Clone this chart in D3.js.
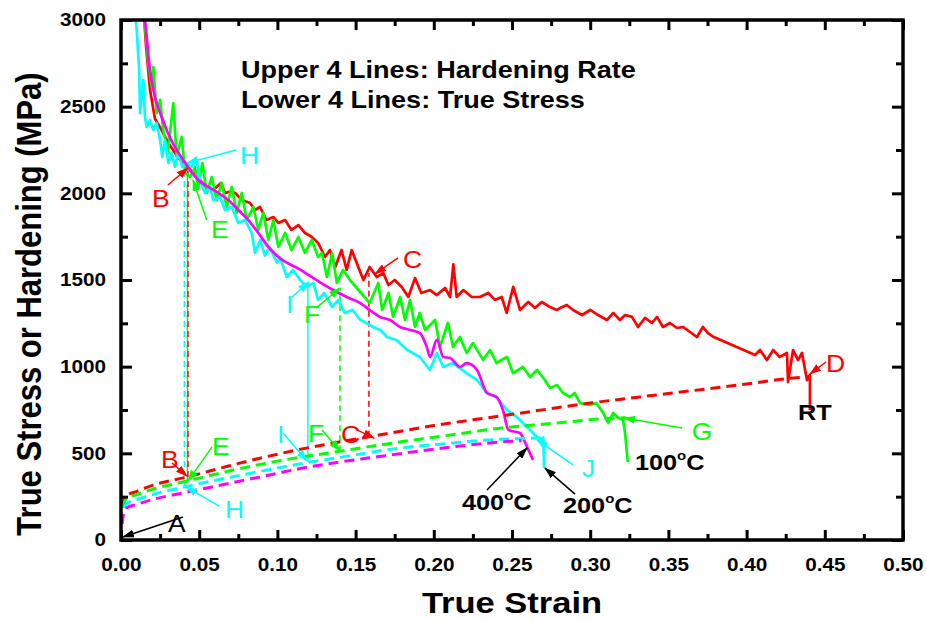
<!DOCTYPE html>
<html>
<head>
<meta charset="utf-8">
<script src="https://cdn.jsdelivr.net/npm/d3@7"></script>
<style>
  body { margin: 0; background: #fff; }
  svg { display: block; }
</style>
</head>
<body>
<svg id="chart" width="927" height="621"></svg>
<script>
// ---- Hardening rate curves (strain, MPa) ----
const hardeningRT = [
  [0.0145,3050],[0.016,2850],[0.0185,2600],[0.0217,2430],[0.025,2380],[0.028,2330],[0.031,2280],
  [0.034,2240],[0.037,2200],[0.0428,2150],[0.047,2110],[0.0505,2077],[0.054,2040],[0.059,2019],
  [0.064,2060],[0.0665,2002],[0.07,2010],[0.073,2002],[0.0772,1962],[0.0825,1944],[0.0857,1904],
  [0.0889,1921],[0.093,1846],[0.0974,1863],[0.1006,1829],[0.1049,1846],[0.109,1789],[0.1134,1817],
  [0.1177,1771],[0.122,1748],[0.126,1714],[0.1304,1633],[0.1336,1673],[0.137,1575],[0.141,1673],
  [0.1443,1558],[0.1475,1673],[0.1517,1575],[0.155,1500],[0.159,1575],[0.1635,1517],[0.1677,1540],
  [0.171,1471],[0.175,1500],[0.1795,1460],[0.1837,1402],[0.188,1511],[0.192,1425],[0.1976,1442],
  [0.2019,1413],[0.2072,1454],[0.2104,1402],[0.2125,1590],[0.2146,1402],[0.2189,1442],[0.2242,1402],
  [0.2295,1402],[0.2348,1425],[0.2391,1385],[0.2434,1402],[0.2466,1310],[0.2508,1460],[0.2551,1327],
  [0.2604,1373],[0.2647,1338],[0.269,1373],[0.2743,1344],[0.2786,1327],[0.2807,1338],[0.285,1356],
  [0.289,1327],[0.2948,1298],[0.300,1327],[0.305,1298],[0.3107,1269],[0.3147,1310],[0.319,1269],
  [0.3223,1298],[0.3267,1287],[0.3306,1229],[0.335,1281],[0.3395,1252],[0.3427,1287],[0.3465,1229],
  [0.351,1252],[0.3555,1223],[0.3593,1229],[0.3638,1200],[0.3683,1171],[0.372,1229],[0.3753,1194],
  [0.379,1171],[0.4054,1067],[0.4086,1096],[0.413,1038],[0.417,1096],[0.421,1056],[0.4258,1079],
  [0.4265,911],[0.4297,1096],[0.4329,1038],[0.4354,1079],[0.4386,923],[0.4405,952],[0.4405,750]
];
const hardening100 = [
  [0.0145,3050],[0.0175,2752],[0.0196,2613],[0.0207,2729],[0.0228,2463],[0.025,2539],[0.027,2365],
  [0.03,2233],[0.0334,2521],[0.0356,2210],[0.0388,2325],[0.041,2117],[0.0441,2094],[0.0473,2152],
  [0.0494,2037],[0.052,2175],[0.0548,2002],[0.058,2094],[0.0612,1962],[0.0644,2060],[0.0676,1921],
  [0.0708,2037],[0.074,1887],[0.0772,2002],[0.0804,1846],[0.0846,1921],[0.0878,1789],[0.091,1887],
  [0.0942,1731],[0.0974,1846],[0.1006,1691],[0.1049,1771],[0.109,1673],[0.1134,1748],[0.1176,1656],
  [0.122,1731],[0.126,1633],[0.1285,1656],[0.1317,1517],[0.135,1656],[0.138,1483],[0.142,1558],
  [0.1464,1500],[0.159,1367],[0.1645,1483],[0.167,1327],[0.171,1425],[0.174,1287],[0.1785,1402],
  [0.1816,1269],[0.1848,1385],[0.188,1229],[0.191,1310],[0.1944,1212],[0.2008,1269],[0.204,1114],
  [0.209,1252],[0.2123,1114],[0.2167,1171],[0.221,1079],[0.225,1136],[0.2315,1039],[0.236,1096],
  [0.240,1021],[0.2468,1056],[0.2506,963],[0.257,998],[0.2615,940],[0.266,981],[0.271,923],
  [0.2743,877],[0.2788,894],[0.2826,848],[0.287,825],[0.290,848],[0.2935,790],[0.300,779],
  [0.304,790],[0.3083,733],[0.3115,675],[0.3147,733],[0.318,704],[0.321,692],[0.3223,617],[0.324,450]
];
const hardening200 = [
  [0.0089,3050],[0.010,2950],[0.0116,2712],[0.0122,2463],[0.0143,2654],[0.0153,2440],[0.0164,2383],
  [0.0185,2423],[0.0206,2365],[0.0228,2406],[0.025,2308],[0.0264,2210],[0.0281,2308],[0.0303,2175],
  [0.0324,2233],[0.0345,2152],[0.0366,2233],[0.0392,2152],[0.042,2175],[0.045,2152],[0.0484,2192],
  [0.0505,2077],[0.0537,2002],[0.0569,2037],[0.059,1962],[0.0633,1979],[0.0665,1904],[0.0708,1921],
  [0.075,1829],[0.0793,1846],[0.0836,1771],[0.0857,1656],[0.089,1731],[0.092,1640],[0.095,1690],
  [0.0997,1600],[0.1017,1630],[0.106,1517],[0.11,1558],[0.1145,1500],[0.119,1460],[0.123,1483],
  [0.126,1385],[0.130,1425],[0.135,1344],[0.139,1385],[0.143,1310],[0.148,1327],[0.153,1269],
  [0.157,1252],[0.161,1229],[0.166,1210],[0.170,1171],[0.176,1154],[0.183,1096],[0.191,1056],
  [0.1975,981],[0.202,1079],[0.206,998],[0.212,1021],[0.221,963],[0.2276,923],[0.234,848],
  [0.240,825],[0.2468,750],[0.253,710],[0.2596,652],[0.266,594],[0.268,580],[0.27,590],[0.2705,415]
];
const hardening400 = [
  [0.0145,3050],[0.0153,3000],[0.0185,2712],[0.0217,2556],[0.026,2440],[0.030,2348],[0.0345,2267],
  [0.0398,2192],[0.0441,2135],[0.0494,2077],[0.0558,2037],[0.0622,2002],[0.0686,1962],[0.075,1904],
  [0.0814,1846],[0.0878,1771],[0.0942,1691],[0.1006,1633],[0.1145,1560],[0.127,1488],[0.1357,1442],
  [0.1443,1402],[0.153,1367],[0.159,1327],[0.1656,1287],[0.172,1269],[0.1784,1229],[0.1848,1212],
  [0.191,1194],[0.1955,1114],[0.1976,1056],[0.202,1154],[0.206,1056],[0.2104,1050],[0.2168,998],
  [0.221,1021],[0.2276,981],[0.234,848],[0.240,825],[0.2442,750],[0.2477,635],[0.255,617],
  [0.2596,537],[0.2634,462]
];

// ---- True stress curves (strain, MPa) ----
const stressRT = [
  [0,0],[0.0008,150],[0.002,230],[0.004,258],[0.01,280],[0.02,315],[0.043,365],[0.07,430],[0.1,495],
  [0.13,550],[0.1585,595],[0.2,660],[0.25,725],[0.3,790],[0.35,845],[0.4,900],[0.43,935],[0.44,942]
];
const stress100 = [
  [0,0],[0.0008,140],[0.002,215],[0.004,242],[0.01,262],[0.02,292],[0.042,340],[0.07,400],[0.1,455],
  [0.14,512],[0.178,565],[0.21,605],[0.242,645],[0.275,672],[0.306,698],[0.323,706]
];
const stress200 = [
  [0,0],[0.0008,120],[0.002,185],[0.004,212],[0.01,232],[0.02,262],[0.04,305],[0.07,362],[0.1,415],
  [0.12,448],[0.1355,470],[0.178,530],[0.21,558],[0.231,575],[0.265,588],[0.272,590]
];
const stress400 = [
  [0,0],[0.0008,100],[0.002,160],[0.004,188],[0.01,205],[0.02,233],[0.04,272],[0.07,328],[0.1,385],
  [0.1145,412],[0.14,450],[0.164,480],[0.19,512],[0.22,545],[0.25,570],[0.256,573]
];

// ---- Vertical guides: [series, strain, lower MPa, upper MPa, solid?] ----
const guides = [
  ["200", 0.0405, 306, 2160, false],
  ["100", 0.0425, 340, 2135, false],
  ["RT",  0.0428, 363, 2140, false],
  ["200", 0.1195, 450, 1490, true],
  ["100", 0.1400, 512, 1454, false],
  ["RT",  0.1585, 595, 1540, false]
];

// ---- Point labels: [series, text, strain, MPa] ----
const pointLabels = [
  ["200","H",0.0761,2169], ["RT","B",0.0198,1921], ["100","E",0.0575,1742],
  ["RT","C",0.1803,1569],  ["200","I",0.1055,1310], ["100","F",0.1170,1252],
  ["RT","C",0.1407,560],   ["100","F",0.1196,565],  ["200","I",0.0997,560],
  ["100","E",0.0582,490],  ["RT","B",0.0256,415],   ["200","H",0.0665,127],
  ["k","A",0.0300,46],     ["100","G",0.3650,577],  ["RT","D",0.4508,969],
  ["200","J",0.2948,363]
];
// ---- Pointer arrows: [series, strain1, MPa1, strain2, MPa2] (head at 2) ----
const pointers = [
  ["200",0.0736,2250,0.0422,2175], ["RT",0.0300,2048,0.0428,2146], ["100",0.0548,1846,0.0460,2077],
  ["RT",0.1771,1627,0.1624,1535],  ["200",0.1093,1402,0.1202,1488], ["100",0.1247,1338,0.1400,1454],
  ["RT",0.1509,635,0.1618,588],    ["100",0.1285,635,0.1400,513],   ["200",0.1036,617,0.1189,456],
  ["100",0.0582,537,0.0428,340],   ["RT",0.0326,444,0.0422,369],    ["200",0.0627,196,0.0416,306],
  ["k",0.0396,133,0.0013,17],      ["100",0.3587,646,0.3216,704],   ["RT",0.4508,1027,0.4405,958],
  ["200",0.2890,433,0.2660,577],   ["k",0.2340,288,0.2596,531],     ["k",0.2903,265,0.2711,415]
];
// ---- Temperature labels: [text, strain, MPa] ----
const tempLabels = [["RT",0.4329,692],["100",0.3286,404],["400",0.2180,173],["200",0.2826,156]];

const legendLines = ["Upper 4 Lines: Hardening Rate", "Lower 4 Lines: True Stress"];
const xTicks = d3.range(0, 0.5001, 0.05);
const xMinor = d3.range(0.025, 0.5, 0.05);
const yTicks = d3.range(0, 3001, 500);
const yMinor = d3.range(250, 3000, 500);

const colors = { RT: "#ff0000", "100": "#00ff00", "200": "#00ffff", "400": "#ff00ff", k: "#000000" };
const FONT = "'Liberation Sans', Arial, Helvetica, sans-serif";
const SX = 1.15; // horizontal glyph stretch

const svg = d3.select("#chart");
const x = d3.scaleLinear().domain([0, 0.5]).range([121, 903]);
const y = d3.scaleLinear().domain([0, 3000]).range([540, 20]);

// arrowhead markers
const defs = svg.append("defs");
Object.entries(colors).forEach(([k, c]) => {
  defs.append("marker").attr("id", "ah-" + k)
    .attr("markerUnits", "userSpaceOnUse").attr("orient", "auto")
    .attr("markerWidth", 12).attr("markerHeight", 8).attr("refX", 11).attr("refY", 4)
    .append("path").attr("d", "M0,0 L12,4 L0,8 Z").attr("fill", c);
});
defs.append("clipPath").attr("id", "plotClip").append("rect")
  .attr("x", 121).attr("y", 20).attr("width", 782).attr("height", 520);

const plot = svg.append("g").attr("clip-path", "url(#plotClip)");

// vertical guides
plot.selectAll("line.guide").data(guides).join("line")
  .attr("x1", d => x(d[1])).attr("x2", d => x(d[1]))
  .attr("y1", d => y(d[2])).attr("y2", d => y(d[3]))
  .attr("stroke", d => colors[d[0]]).attr("stroke-width", 1.5)
  .attr("stroke-dasharray", d => d[4] ? null : "6,4");

const line = d3.line().x(d => x(d[0])).y(d => y(d[1]));
const smooth = d3.line().x(d => x(d[0])).y(d => y(d[1])).curve(d3.curveMonotoneX);

// hardening rate curves
[["RT", hardeningRT, line], ["100", hardening100, line], ["200", hardening200, line], ["400", hardening400, smooth]]
  .forEach(([k, data, gen]) => {
    plot.append("path").datum(data).attr("d", gen)
      .attr("fill", "none").attr("stroke", colors[k]).attr("stroke-width", 2.7)
      .attr("stroke-linejoin", "round");
  });

// true stress curves (dashed)
[["RT", stressRT], ["100", stress100], ["200", stress200], ["400", stress400]].forEach(([k, data]) => {
  plot.append("path").datum(data).attr("d", smooth)
    .attr("fill", "none").attr("stroke", colors[k]).attr("stroke-width", 3)
    .attr("stroke-dasharray", "10,6");
});

// pointer arrows
svg.selectAll("line.ptr").data(pointers).join("line")
  .attr("x1", d => x(d[1])).attr("y1", d => y(d[2]))
  .attr("x2", d => x(d[3])).attr("y2", d => y(d[4]))
  .attr("stroke", d => colors[d[0]]).attr("stroke-width", 1.5)
  .attr("marker-end", d => `url(#ah-${d[0]})`);

function addText(px, py, txt, size, weight, color, anchor) {
  return svg.append("text")
    .attr("transform", `translate(${px},${py}) scale(${SX},1)`)
    .attr("font-family", FONT).attr("font-size", size).attr("font-weight", weight)
    .attr("fill", color).attr("text-anchor", anchor || "start").text(txt);
}

pointLabels.forEach(([k, t, sx, sy]) => addText(x(sx), y(sy), t, 23, "normal", colors[k]));

tempLabels.forEach(([t, sx, sy]) => {
  if (t === "RT") { addText(x(sx), y(sy), "RT", 22, "bold", "#000"); return; }
  const el = addText(x(sx), y(sy), t, 22, "bold", "#000");
  el.append("tspan").attr("font-size", 13).attr("dy", -10).text("o");
  el.append("tspan").attr("dy", 10).text("C");
});

legendLines.forEach((t, i) => addText(241, 78 + i * 30, t, 23.5, "bold", "#000"));

// axes
const axisG = svg.append("g");
function styleAxis(g) {
  g.select(".domain").remove();
  g.selectAll(".tick line").attr("stroke", "#000").attr("stroke-width", 3);
  g.selectAll(".tick text").attr("font-family", FONT).attr("font-weight", "bold")
    .attr("font-size", 18).attr("fill", "#000");
}
axisG.append("g").attr("transform", "translate(0,540)")
  .call(d3.axisBottom(x).tickValues(xTicks).tickSize(-10).tickPadding(18).tickFormat(d3.format(".2f")))
  .call(styleAxis)
  .call(g => g.selectAll(".tick text").attr("transform", `scale(${SX},1)`));
axisG.append("g").attr("transform", "translate(0,540)")
  .call(d3.axisBottom(x).tickValues(xMinor).tickSize(-6).tickFormat(""))
  .call(styleAxis);
axisG.append("g").attr("transform", "translate(0,20)")
  .call(d3.axisTop(x).tickValues(xTicks).tickSize(-10).tickFormat("")).call(styleAxis);
axisG.append("g").attr("transform", "translate(0,20)")
  .call(d3.axisTop(x).tickValues(xMinor).tickSize(-6).tickFormat("")).call(styleAxis);
axisG.append("g").attr("transform", "translate(121,0)")
  .call(d3.axisLeft(y).tickValues(yTicks).tickSize(-11).tickPadding(13).tickFormat(d3.format("d")))
  .call(styleAxis)
  .call(g => g.selectAll(".tick text").attr("transform", `scale(${SX},1)`));
axisG.append("g").attr("transform", "translate(121,0)")
  .call(d3.axisLeft(y).tickValues(yMinor).tickSize(-7).tickFormat("")).call(styleAxis);
axisG.append("g").attr("transform", "translate(903,0)")
  .call(d3.axisRight(y).tickValues(yTicks).tickSize(-11).tickFormat("")).call(styleAxis);
axisG.append("g").attr("transform", "translate(903,0)")
  .call(d3.axisRight(y).tickValues(yMinor).tickSize(-7).tickFormat("")).call(styleAxis);

svg.append("rect").attr("x", 121).attr("y", 20).attr("width", 782).attr("height", 520)
  .attr("fill", "none").attr("stroke", "#000").attr("stroke-width", 3.5);

// axis titles
addText(512, 613, "True Strain", 30, "bold", "#000", "middle");
svg.append("text")
  .attr("transform", "translate(41,304) rotate(-90) scale(1,1.12)")
  .attr("font-family", FONT).attr("font-size", 31).attr("font-weight", "bold")
  .attr("text-anchor", "middle").attr("fill", "#000")
  .text("True Stress or Hardening (MPa)");
</script>
</body>
</html>
